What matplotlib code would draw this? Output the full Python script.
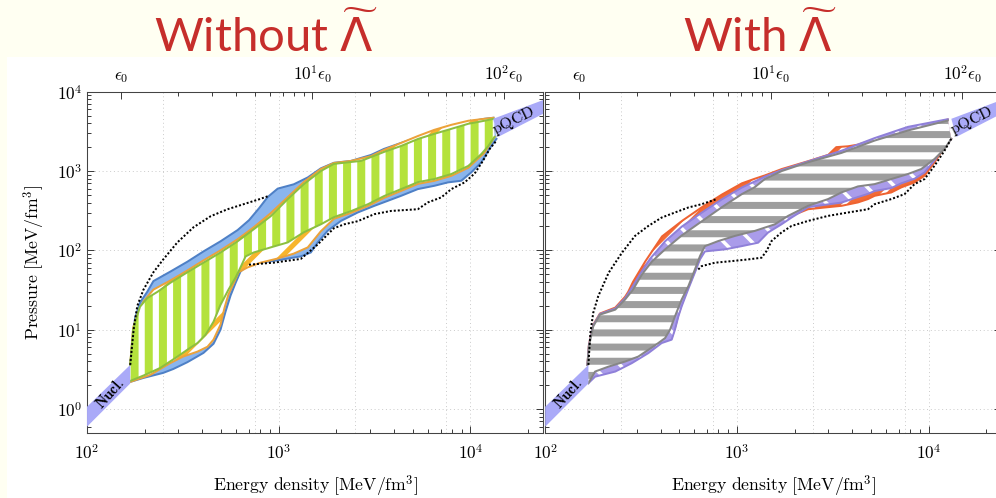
import numpy as np
import matplotlib
matplotlib.use('Agg')
import matplotlib.pyplot as plt
from matplotlib.patches import Rectangle
from matplotlib.ticker import FixedLocator, FixedFormatter, NullFormatter

plt.rcParams['mathtext.fontset'] = 'cm'

# ------------------------------------------------------------------ data
eps0 = 150.0
grid_x = [250, 750, 1000, 2500, 7500, 10000]
grid_y = [1, 10, 100, 1000]

nucl_e = [100, 168]
nucl_p_lo = [0.60, 2.1]
nucl_p_hi = [1.07, 3.6]
pqcd_e_hi = [13150, 26000]
pqcd_p_hi = [4550, 8440]
pqcd_e_lo = [13960, 26000]
pqcd_p_lo = [2690, 5820]

# ---- left panel (without Lambda) ----
green_up_e = [168, 174, 178, 189, 206, 233, 272, 334, 405, 497, 610, 740, 908, 1115, 1352, 1659, 1941, 2382, 2687, 3032, 3545, 4353, 5343, 6478, 7955, 9761, 11840, 13200]
green_up_p = [3.6, 10, 12.3, 19.5, 25, 30, 39, 53, 70, 94, 130, 184, 269, 443, 684, 1000, 1230, 1300, 1340, 1500, 1740, 2070, 2540, 2940, 3400, 3940, 4300, 4550]
green_lo_e = [168, 201, 241, 289, 334, 377, 415, 457, 497, 547, 596, 632, 672, 740, 908, 1115, 1352, 1659, 1941, 2382, 2924, 3545, 4353, 5343, 6478, 7955, 9761, 11420, 12420, 13360]
green_lo_p = [2.26, 2.7, 3.3, 4.4, 5.6, 6.8, 8.6, 12.6, 20.6, 32, 45.5, 61, 84, 94, 109, 126, 169, 213, 262, 312, 382, 483, 592, 726, 792, 916, 1160, 1640, 2070, 2690]

orange_up_e = [168, 174, 183, 197, 222, 272, 334, 405, 497, 610, 740, 908, 1115, 1352, 1659, 1941, 2382, 3032, 3545, 4353, 5343, 6478, 7955, 9761, 11840, 13200]
orange_up_p = [3.6, 10.6, 15.5, 22.6, 32, 41.7, 55.8, 74.7, 100, 138, 195, 294, 469, 726, 1060, 1262, 1340, 1540, 1845, 2260, 2770, 3300, 3820, 4300, 4550, 4690]
orange_lo_e = [168, 214, 272, 318, 377, 425, 457, 497, 522, 547, 581, 617, 688, 805, 988, 1198, 1418, 1659, 1941, 2382, 2924, 3545, 4353, 5343, 6478, 7955, 9761, 11840, 13360]
orange_lo_p = [2.2, 2.7, 3.8, 4.6, 5.3, 6.1, 7.5, 11.6, 19, 28, 38, 53, 61, 70, 79, 91, 109, 174, 250, 297, 363, 459, 562, 690, 752, 870, 1100, 1700, 2690]

blue_up_e = [168, 178, 189, 206, 222, 272, 334, 405, 497, 610, 700, 790, 876, 988, 1198, 1418, 1659, 1941, 2382, 3032, 3545, 4353, 5343, 6478, 7955, 9761, 11840, 13200]
blue_up_p = [3.6, 14, 22, 30, 41, 54, 72, 97, 130, 180, 240, 340, 470, 600, 680, 830, 1080, 1270, 1340, 1594, 1900, 2260, 2690, 3210, 3710, 4170, 4550, 4690]
blue_lo_e = [168, 197, 250, 282, 334, 405, 457, 497, 528, 561, 596, 632, 688, 805, 988, 1304, 1471, 1594, 1798, 2112, 2582, 3155, 3707, 4353, 5320, 6500, 7640, 8972, 10120, 11420, 12880, 13690]
blue_lo_p = [2.2, 2.47, 2.86, 3.2, 3.9, 5.1, 6.65, 10, 16.9, 27, 39, 54, 65, 70, 75, 84, 94, 125, 176, 235, 300, 364, 421, 487, 592, 652, 719, 754, 963, 1290, 2090, 2540]

dot_up_e = [168, 172, 176, 183, 197, 222, 250, 296, 359, 441, 541, 656, 790, 876]
dot_up_p = [3.6, 6.5, 11.2, 20, 32, 53, 77, 126, 195, 269, 330, 382, 440, 480]
dot_lo_e = [700, 941, 1304, 1594, 1941, 2198, 2582, 3155, 3859, 5320, 6003, 7049, 7955, 9333, 10530, 11650, 12620, 13690]
dot_lo_p = [66, 70, 78, 118, 190, 213, 233, 286, 314, 330, 402, 465, 592, 719, 930, 1350, 1900, 2420]

# ---- right panel (with Lambda) ----
gray_up_e = [166, 169, 178, 193, 232, 261, 287, 320, 361, 422, 517, 657, 835, 1062, 1241, 1399, 1716, 2352, 3511, 5233, 7803, 12600]
gray_up_p = [3.6, 6.15, 11.0, 15.5, 17.9, 24, 32, 50, 72.6, 103, 155, 233, 350, 512, 627, 792, 1000, 1290, 1690, 2420, 3240, 4330]
gray_lo_e = [168, 182, 214, 261, 306, 345, 389, 422, 448, 475, 515, 558, 604, 642, 681, 799, 976, 1241, 1577, 1850, 2352, 2990, 3511, 4283, 5233, 6393, 7803, 9162, 10750, 12120, 13130]
gray_lo_p = [2.12, 2.97, 3.43, 3.97, 4.59, 5.58, 6.79, 7.85, 10, 14.7, 24, 35.3, 57.5, 84.7, 113, 131, 152, 176, 213, 272, 364, 443, 537, 640, 684, 792, 916, 1060, 1420, 1900, 2540]

purple_up_e = [166, 169, 178, 193, 232, 261, 277, 312, 352, 422, 517, 657, 835, 1062, 1241, 1399, 1716, 2352, 3511, 5233, 7803, 12600]
purple_up_p = [3.6, 6.3, 11.3, 15.8, 18.5, 25, 31, 50, 78, 130, 200, 300, 440, 620, 740, 850, 1030, 1320, 1800, 2600, 3600, 4500]
purple_lo_e = [168, 182, 232, 283, 345, 405, 457, 475, 495, 515, 556, 604, 642, 681, 709, 866, 1058, 1291, 1455, 1709, 1927, 2352, 2872, 3511, 4283, 4830, 5233, 6393, 7208, 8454, 9533, 10750, 11650, 13130]
purple_lo_p = [2.12, 2.56, 2.97, 3.79, 5.07, 6.79, 7.5, 10, 14.7, 19.7, 32, 52.7, 77, 97, 98, 103, 113, 125, 168, 213, 259, 350, 375, 400, 470, 515, 560, 610, 700, 800, 960, 1370, 1800, 2540]

red_up_e = [166, 169, 178, 193, 232, 261, 271, 287, 332, 407, 517, 657, 835, 1062, 1241, 1399, 1716, 2352, 3000, 3300, 3800, 4283, 5233, 7803, 12600]
red_up_p = [3.6, 6.4, 11.5, 16, 19, 26, 30, 40, 72, 150, 235, 350, 505, 700, 800, 880, 1060, 1330, 1600, 2000, 2050, 2150, 2500, 3300, 4450]
red_lo_e = [168, 182, 232, 283, 345, 405, 457, 475, 495, 515, 556, 604, 642, 681, 709, 866, 1058, 1291, 1455, 1709, 1927, 2352, 2872, 3511, 4283, 4830, 5233, 6393, 7208, 8454, 9533, 10750, 11650, 12870, 13130]
red_lo_p = [2.2, 2.7, 3.1, 4.0, 5.3, 7.1, 7.9, 10.5, 15.4, 20.7, 33.6, 55, 81, 102, 103, 108, 119, 131, 176, 224, 272, 330, 347, 364, 402, 443, 487, 537, 622, 719, 873, 1290, 1726, 2420, 2540]

rdot_up_e = [168, 172, 178, 189, 214, 251, 294, 345, 405, 475, 558, 655, 784]
rdot_up_p = [3.6, 9.1, 16.3, 26.4, 52, 93, 152, 203, 259, 300, 347, 382, 443]
rdot_lo_e = [629, 655, 768, 938, 1145, 1345, 1428, 1516, 1709, 1927, 2352, 2990, 3799, 4830, 5233, 6393, 7499, 8454, 9533, 10750, 12120, 13130]
rdot_lo_p = [57.5, 63.3, 69.9, 73.2, 76.9, 80.8, 98, 131, 168, 203, 235, 272, 300, 330, 382, 443, 512, 684, 792, 1167, 1806, 2540]

titles = [r'Without $\widetilde{\Lambda}$', r'With $\widetilde{\Lambda}$']

# ------------------------------------------------------------------ style
DPI = 85
W, H = 996, 498
PT = 72.0 / DPI  # points per pixel

C_BAND = '#aaaaf8'
C_BLUE_F, C_BLUE_L = '#8ab5ed', '#4e80c6'
C_OR_F, C_OR_L = '#f7b52c', '#eca23a'
C_GR_F, C_GR_L = '#b4e23c', '#8cbf3f'
C_GY_F, C_GY_L = '#9e9e9e', '#868686'
C_PU_F, C_PU_L = '#aa9cea', '#8f80d9'
C_RD_F, C_RD_L = '#f26b36', '#ee6331'
C_TITLE = '#c62e2b'

fig = plt.figure(figsize=((W + 0.4) / DPI, (H + 0.4) / DPI), dpi=DPI, facecolor='#fffff2')
fig.patches.append(Rectangle((7 / W, 0), (W - 7) / W, (H - 57) / H, transform=fig.transFigure,
                             facecolor='white', edgecolor='none', zorder=-10))

def poly(ue, up, le, lp):
    x = np.concatenate([np.asarray(ue, float), np.asarray(le, float)[::-1]])
    y = np.concatenate([np.asarray(up, float), np.asarray(lp, float)[::-1]])
    return x, y

def hatched(ax, ue, up, le, lp, face, hcolor, hatch, hlw_px, z):
    x, y = poly(ue, up, le, lp)
    with plt.rc_context({'hatch.linewidth': hlw_px * PT}):
        p = ax.fill(x, y, facecolor=face, edgecolor=hcolor, hatch=hatch, lw=0, zorder=z)[0]
    if hasattr(p, 'set_hatch_linewidth'):
        p.set_hatch_linewidth(hlw_px * PT)
    return p

def outline(ax, ue, up, le, lp, color, z, lw=2.0):
    ax.plot(ue, up, color=color, lw=lw * PT, zorder=z, solid_joinstyle='round')
    ax.plot(le, lp, color=color, lw=lw * PT, zorder=z, solid_joinstyle='round')

def bands(ax):
    x, y = poly(nucl_e, nucl_p_hi, nucl_e, nucl_p_lo)
    ax.fill(x, y, facecolor=C_BAND, edgecolor='none', zorder=5)
    x, y = poly(pqcd_e_hi, pqcd_p_hi, pqcd_e_lo, pqcd_p_lo)
    ax.fill(x, y, facecolor=C_BAND, edgecolor='none', zorder=5)
    ax.text(131, 1.58, r'$\mathbf{Nucl.}$', rotation=48, rotation_mode='anchor',
            ha='center', va='center', fontsize=12.5, zorder=6)
    ax.text(16800, 4300, r'$\mathrm{pQCD}$', rotation=26, rotation_mode='anchor',
            ha='center', va='center', fontsize=13.5, zorder=6)

def setup(ax, left_labels):
    ax.set_xscale('log'); ax.set_yscale('log')
    ax.set_xlim(100, 24000); ax.set_ylim(0.5, 1e4)
    for g in grid_x:
        ax.axvline(g, color='#c8c8c8', lw=0.8, ls=(0, (1, 3)), zorder=0.5)
    for g in grid_y:
        ax.axhline(g, color='#c8c8c8', lw=0.8, ls=(0, (1, 3)), zorder=0.5)
    ax.xaxis.set_major_locator(FixedLocator([1e2, 1e3, 1e4]))
    ax.xaxis.set_major_formatter(FixedFormatter([r'$10^{2}$', r'$10^{3}$', r'$10^{4}$']))
    xm = [m * 10 ** k for k in (2, 3, 4) for m in range(2, 10)]
    ax.xaxis.set_minor_locator(FixedLocator(xm))
    ax.xaxis.set_minor_formatter(NullFormatter())
    ax.yaxis.set_major_locator(FixedLocator([1, 10, 100, 1000, 10000]))
    ax.yaxis.set_major_formatter(FixedFormatter([r'$10^{0}$', r'$10^{1}$', r'$10^{2}$', r'$10^{3}$', r'$10^{4}$']))
    ym = [m * 10.0 ** k for k in (-1, 0, 1, 2, 3) for m in range(2, 10)]
    ax.yaxis.set_minor_locator(FixedLocator(ym))
    ax.yaxis.set_minor_formatter(NullFormatter())
    ax.tick_params(which='both', direction='in', top=False, right=True, left=True, bottom=True,
                   labelsize=14.5, color='#333333', width=0.8)
    ax.tick_params(which='major', length=6)
    ax.tick_params(which='minor', length=3.5)
    ax.tick_params(axis='x', pad=9)
    ax.tick_params(axis='y', pad=4, labelleft=left_labels)
    for s in ax.spines.values():
        s.set_color('#444444'); s.set_linewidth(0.9)
    ax.set_xlabel(r'$\mathrm{Energy\ density\ [MeV/fm^3]}$', fontsize=15, labelpad=9)
    tw = ax.twiny()
    tw.set_xscale('log'); tw.set_xlim(ax.get_xlim())
    tw.xaxis.set_major_locator(FixedLocator([eps0, 10 * eps0, 100 * eps0]))
    tw.xaxis.set_major_formatter(FixedFormatter([r'$\epsilon_0$', r'$10^{1}\epsilon_0$', r'$10^{2}\epsilon_0$']))
    tm = [m * eps0 * 10 ** k for k in (0, 1, 2) for m in range(2, 10)]
    tw.xaxis.set_minor_locator(FixedLocator(tm))
    tw.xaxis.set_minor_formatter(NullFormatter())
    tw.tick_params(which='both', direction='in', labelsize=14.5, color='#333333', width=0.8, pad=6)
    tw.tick_params(which='major', length=6)
    tw.tick_params(which='minor', length=3.5)
    for s in tw.spines.values():
        s.set_visible(False)
    return tw

axL = fig.add_axes([87 / W, (H - 433) / H, 456 / W, 341 / H])
axR = fig.add_axes([545 / W, (H - 433) / H, 456 / W, 341 / H])
setup(axL, True)
setup(axR, False)
axL.set_ylabel(r'$\mathrm{Pressure\ [MeV/fm^3]}$', fontsize=15, labelpad=8)

# ---- left panel regions
x, y = poly(blue_up_e, blue_up_p, blue_lo_e, blue_lo_p)
axL.fill(x, y, facecolor=C_BLUE_F, edgecolor='none', zorder=2)
outline(axL, blue_up_e, blue_up_p, blue_lo_e, blue_lo_p, C_BLUE_L, 2.1)
hatched(axL, orange_up_e, orange_up_p, orange_lo_e, orange_lo_p, 'white', C_OR_F, '/', 5, 3)
outline(axL, orange_up_e, orange_up_p, orange_lo_e, orange_lo_p, C_OR_L, 3.1)
hatched(axL, green_up_e, green_up_p, green_lo_e, green_lo_p, 'white', C_GR_F, '|', 8, 4)
outline(axL, green_up_e, green_up_p, green_lo_e, green_lo_p, C_GR_L, 4.1)
axL.plot(dot_up_e, dot_up_p, color='black', lw=2.0 * PT, ls=(0, (1, 1)), zorder=4.5)
axL.plot(dot_lo_e, dot_lo_p, color='black', lw=2.0 * PT, ls=(0, (1, 1)), zorder=4.5)
bands(axL)

# ---- right panel regions
hatched(axR, red_up_e, red_up_p, red_lo_e, red_lo_p, C_RD_F, 'white', '/', 3.5, 2)
outline(axR, red_up_e, red_up_p, red_lo_e, red_lo_p, C_RD_L, 2.1)
hatched(axR, purple_up_e, purple_up_p, purple_lo_e, purple_lo_p, C_PU_F, 'white', '\\', 3.5, 3)
outline(axR, purple_up_e, purple_up_p, purple_lo_e, purple_lo_p, C_PU_L, 3.1)
hatched(axR, gray_up_e, gray_up_p, gray_lo_e, gray_lo_p, 'white', C_GY_F, '-', 7, 4)
outline(axR, gray_up_e, gray_up_p, gray_lo_e, gray_lo_p, C_GY_L, 4.1)
axR.plot(rdot_up_e, rdot_up_p, color='black', lw=2.0 * PT, ls=(0, (1, 1)), zorder=4.5)
axR.plot(rdot_lo_e, rdot_lo_p, color='black', lw=2.0 * PT, ls=(0, (1, 1)), zorder=4.5)
bands(axR)

# ---- slide titles
TFS = 40
tfam = ['Lato', 'DejaVu Sans']
for cx, s in zip([266, 760], titles):
    fig.text(cx / W, 1 - 52 / H, s, ha='center', va='baseline', fontsize=TFS,
             family=tfam, math_fontfamily='dejavusans', color=C_TITLE)

fig.savefig('out.png', dpi=DPI, facecolor=fig.get_facecolor())
